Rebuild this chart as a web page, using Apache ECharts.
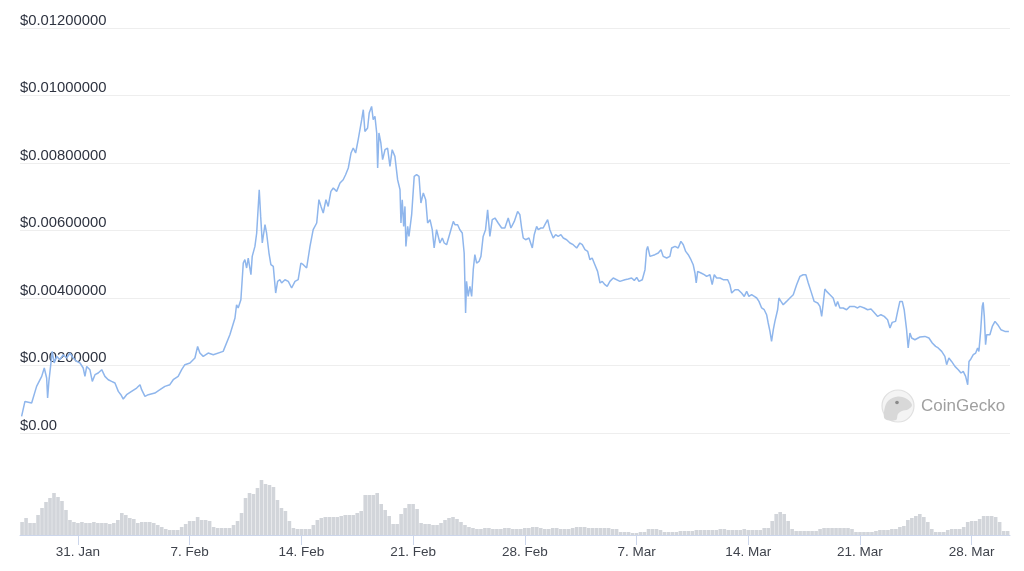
<!DOCTYPE html>
<html>
<head>
<meta charset="utf-8">
<script src="https://cdn.jsdelivr.net/npm/echarts@6/dist/echarts.min.js"></script>
<style>
html,body{margin:0;padding:0;background:#fff;}
#chart{width:1024px;height:571px;}
</style>
</head>
<body>
<div id="chart"></div>
<script>
// x values are days relative to 31 Jan (0 = 31 Jan)
const xTickDays = [0, 7, 14, 21, 28, 35, 42, 49, 56];
const xTickLabels = ['31. Jan', '7. Feb', '14. Feb', '21. Feb', '28. Feb', '7. Mar', '14. Mar', '21. Mar', '28. Mar'];
const yTickLabels = ['$0.00', '$0.00200000', '$0.00400000', '$0.00600000', '$0.00800000', '$0.01000000', '$0.01200000'];

// price: [day, USD]
const pricePoints = [
[-3.53,0.000492],[-3.32,0.000936],[-2.90,0.000889],[-2.59,0.001381],[-2.27,0.001677],[-2.11,0.001926],[-1.96,0.001630],[-1.90,0.001037],[-1.82,0.001529],[-1.61,0.002418],
[-1.49,0.002074],[-1.33,0.002270],[-1.13,0.002172],[-0.92,0.002320],[-0.71,0.002222],[-0.50,0.002370],[-0.29,0.002222],[-0.08,0.002121],[0.13,0.002074],[0.33,0.001926],
[0.44,0.001677],[0.55,0.001973],[0.75,0.001876],[0.90,0.001529],[1.07,0.001727],[1.27,0.001778],[1.49,0.001876],[1.69,0.001677],[1.90,0.001579],[2.11,0.001529],
[2.32,0.001481],[2.53,0.001233],[2.69,0.001135],[2.84,0.001007],[3.05,0.001135],[3.36,0.001233],[3.68,0.001333],[3.89,0.001431],[3.99,0.001283],[4.20,0.001084],
[4.41,0.001135],[4.82,0.001185],[5.14,0.001283],[5.45,0.001381],[5.76,0.001431],[5.97,0.001579],[6.28,0.001677],[6.50,0.001876],[6.70,0.002024],[6.81,0.001973],
[7.02,0.002074],[7.33,0.002222],[7.50,0.002566],[7.64,0.002370],[7.85,0.002270],[8.16,0.002370],[8.48,0.002320],[9.10,0.002418],[9.52,0.002913],[9.84,0.003407],
[9.94,0.003801],[10.04,0.003704],[10.21,0.003950],[10.36,0.005037],[10.46,0.005135],[10.57,0.004889],[10.67,0.005185],[10.84,0.004690],[10.92,0.005233],[11.09,0.005529],
[11.20,0.005926],[11.36,0.007209],[11.45,0.006418],[11.55,0.005630],[11.72,0.006172],[11.82,0.005926],[11.97,0.005333],[12.09,0.004987],[12.24,0.004936],[12.39,0.004148],
[12.51,0.004492],[12.66,0.004542],[12.76,0.004444],[12.97,0.004542],[13.18,0.004492],[13.39,0.004296],[13.60,0.004492],[13.80,0.004542],[13.97,0.005037],[14.12,0.004987],
[14.33,0.004889],[14.54,0.005529],[14.74,0.006024],[14.96,0.006222],[15.10,0.006913],[15.23,0.006714],[15.37,0.006519],[15.54,0.006913],[15.68,0.006714],[15.85,0.007159],
[16.00,0.007259],[16.21,0.007159],[16.42,0.007407],[16.62,0.007505],[16.77,0.007653],[16.94,0.007852],[17.11,0.008296],[17.25,0.008444],[17.40,0.008296],[17.56,0.008690],
[17.78,0.009283],[17.88,0.009579],[17.98,0.008936],[18.15,0.009037],[18.25,0.009481],[18.40,0.009677],[18.50,0.009283],[18.61,0.009381],[18.72,0.008889],[18.78,0.007852],
[18.86,0.008889],[18.98,0.008593],[19.09,0.008098],[19.24,0.008394],[19.40,0.008444],[19.55,0.007899],[19.69,0.008394],[19.86,0.008196],[20.03,0.007505],[20.18,0.007209],
[20.24,0.006222],[20.32,0.006913],[20.41,0.006121],[20.49,0.006714],[20.55,0.005529],[20.66,0.006121],[20.74,0.005825],[20.91,0.006468],[21.07,0.007603],[21.22,0.007653],
[21.37,0.007603],[21.49,0.006815],[21.64,0.007111],[21.79,0.006913],[21.91,0.006222],[22.06,0.006320],[22.20,0.006024],[22.32,0.005481],[22.47,0.006024],[22.58,0.006074],
[22.68,0.005630],[22.83,0.005778],[22.95,0.005630],[23.10,0.005579],[23.20,0.005630],[23.37,0.006024],[23.52,0.006270],[23.62,0.006172],[23.79,0.006172],[23.93,0.006024],
[24.08,0.005926],[24.20,0.005333],[24.29,0.003556],[24.35,0.004492],[24.45,0.004047],[24.56,0.004344],[24.67,0.004047],[24.77,0.004839],[24.87,0.005283],[24.98,0.005037],
[25.13,0.005084],[25.25,0.005233],[25.39,0.005825],[25.54,0.006024],[25.67,0.006616],[25.81,0.005825],[25.96,0.006320],[26.13,0.006370],[26.33,0.006222],[26.55,0.006074],
[26.75,0.006074],[26.96,0.006370],[27.13,0.006074],[27.34,0.006270],[27.55,0.006566],[27.69,0.006468],[27.80,0.006074],[27.90,0.005778],[28.05,0.005727],[28.26,0.005778],
[28.38,0.005778],[28.47,0.005481],[28.59,0.005876],[28.74,0.006121],[28.84,0.006024],[29.01,0.006074],[29.15,0.006074],[29.26,0.006172],[29.43,0.006320],[29.57,0.006024],
[29.68,0.005973],[29.78,0.005778],[29.93,0.005876],[30.09,0.005825],[30.26,0.005876],[30.41,0.005778],[30.62,0.005727],[30.83,0.005630],[31.03,0.005579],[31.25,0.005481],
[31.45,0.005630],[31.60,0.005579],[31.77,0.005431],[31.94,0.005381],[32.08,0.005135],[32.22,0.005185],[32.39,0.004987],[32.56,0.004788],[32.71,0.004444],[32.85,0.004492],
[33.02,0.004394],[33.16,0.004344],[33.33,0.004492],[33.54,0.004593],[33.65,0.004542],[33.96,0.004492],[34.27,0.004542],[34.48,0.004563],[34.69,0.004593],[34.86,0.004521],
[35.01,0.004610],[35.15,0.004492],[35.36,0.004542],[35.53,0.004839],[35.63,0.005431],[35.70,0.005529],[35.84,0.005233],[35.95,0.005283],[36.15,0.005283],[36.36,0.005333],
[36.53,0.005431],[36.67,0.005233],[36.89,0.005185],[37.09,0.005233],[37.20,0.005481],[37.41,0.005529],[37.61,0.005481],[37.78,0.005677],[37.93,0.005579],[38.08,0.005381],
[38.24,0.005283],[38.41,0.005135],[38.55,0.004987],[38.66,0.004741],[38.74,0.004444],[38.83,0.004788],[39.04,0.004741],[39.24,0.004690],[39.39,0.004640],[39.60,0.004690],
[39.74,0.004394],[39.87,0.004690],[40.02,0.004593],[40.23,0.004593],[40.43,0.004542],[40.71,0.004542],[40.85,0.004394],[40.96,0.004148],[41.17,0.004246],[41.37,0.004246],
[41.58,0.004148],[41.75,0.004047],[41.90,0.004196],[42.04,0.004047],[42.21,0.004098],[42.38,0.004047],[42.53,0.004000],[42.67,0.003899],[42.84,0.003704],[43.00,0.003653],
[43.15,0.003505],[43.25,0.003259],[43.36,0.003010],[43.46,0.002714],[43.57,0.003061],[43.67,0.003307],[43.84,0.003653],[43.92,0.004000],[44.05,0.003899],[44.19,0.003801],
[44.40,0.003899],[44.61,0.004000],[44.82,0.004098],[45.03,0.004394],[45.24,0.004640],[45.44,0.004690],[45.61,0.004690],[45.76,0.004444],[45.93,0.004196],[46.13,0.003899],
[46.35,0.003852],[46.49,0.003751],[46.60,0.003455],[46.70,0.003852],[46.80,0.004267],[46.91,0.004196],[47.12,0.004098],[47.32,0.004000],[47.48,0.003751],[47.60,0.003899],
[47.74,0.003704],[47.95,0.003704],[48.16,0.003653],[48.37,0.003751],[48.64,0.003751],[48.85,0.003704],[49.00,0.003751],[49.27,0.003704],[49.48,0.003653],[49.69,0.003674],
[49.89,0.003573],[50.11,0.003455],[50.31,0.003505],[50.52,0.003455],[50.73,0.003357],[50.88,0.003111],[51.02,0.003277],[51.23,0.003307],[51.36,0.003603],[51.50,0.003899],
[51.65,0.003899],[51.77,0.003653],[51.82,0.003455],[51.92,0.003061],[52.02,0.002519],[52.13,0.002963],[52.24,0.002815],[52.44,0.002764],[52.76,0.002844],[53.07,0.002862],
[53.32,0.002815],[53.53,0.002667],[53.74,0.002566],[53.90,0.002519],[54.12,0.002418],[54.32,0.002270],[54.43,0.002024],[54.57,0.002222],[54.74,0.002121],[54.95,0.001973],
[55.16,0.001876],[55.33,0.001778],[55.47,0.001825],[55.62,0.001677],[55.75,0.001431],[55.83,0.002121],[55.95,0.002193],[56.10,0.002320],[56.25,0.002370],[56.37,0.002519],
[56.45,0.002418],[56.56,0.003010],[56.66,0.003751],[56.72,0.003870],[56.79,0.003455],[56.87,0.002616],[56.94,0.002913],[57.14,0.002913],[57.29,0.003158],[57.46,0.003307],
[57.63,0.003209],[57.83,0.003061],[58.08,0.003010],[58.33,0.003010]
];

// volume: one value per 6-hour slot starting at day -3.5 (relative units)
const volumeStartDay = -3.5;
const volumeStepDay = 0.25;
const volume = [
13,17,12,12,20,27,33,37,42,38,
34,25,15,13,12,13,12,12,13,12,
12,12,11,12,15,22,20,17,16,12,
13,13,13,12,10,8,6,5,5,5,
8,11,14,14,18,15,15,14,8,7,
7,7,7,10,14,22,37,42,41,47,
55,51,50,48,35,27,24,14,7,6,
6,6,6,10,15,17,18,18,18,18,
19,20,20,20,22,24,40,40,40,42,
31,25,19,11,11,21,27,31,31,26,
12,11,11,10,10,12,15,17,18,16,
13,10,8,7,6,6,7,7,6,6,
6,7,7,6,6,6,7,7,8,8,
7,6,6,7,7,6,6,6,7,8,
8,8,7,7,7,7,7,7,6,6,
3,3,3,2,2,3,3,6,6,6,
5,3,3,3,3,4,4,4,4,5,
5,5,5,5,5,6,6,5,5,5,
5,6,5,5,5,5,7,7,14,21,
23,21,14,6,4,4,4,4,4,4,
6,7,7,7,7,7,7,7,6,3,
3,3,3,3,4,5,5,5,6,6,
8,9,15,17,19,21,18,13,6,3,
3,3,5,6,6,6,8,13,14,14,
16,19,19,19,18,13,4,4
];

const X_MIN = -3.63;
const X_MAX = 58.40;

const volumeData = volume.map((v, i) => [volumeStartDay + i * volumeStepDay, v]);

const chart = echarts.init(document.getElementById('chart'), null, {renderer: 'canvas'});
const FONT = 'Liberation Sans, Helvetica, Arial, sans-serif';

chart.setOption({
  animation: false,
  backgroundColor: '#ffffff',
  grid: [
    {left: 20, right: 14, top: 28, height: 405},
    {left: 20, right: 14, top: 435, height: 100}
  ],
  xAxis: [
    {type: 'value', gridIndex: 0, min: X_MIN, max: X_MAX, show: false},
    {
      type: 'value', gridIndex: 1, min: X_MIN, max: X_MAX,
      axisLine: {show: true, lineStyle: {color: '#ccd6eb', width: 1}},
      axisTick: {show: true, length: 10, lineStyle: {color: '#ccd6eb'}, customValues: xTickDays},
      axisLabel: {
        customValues: xTickDays,
        formatter: v => xTickLabels[Math.round(v / 7)],
        color: '#3f434c', fontSize: 13.5, fontFamily: FONT, margin: 10
      },
      splitLine: {show: false}
    }
  ],
  yAxis: [
    {
      type: 'value', gridIndex: 0, min: 0, max: 0.012, interval: 0.002,
      axisLine: {show: false}, axisTick: {show: false},
      splitLine: {show: true, lineStyle: {color: '#eeeeee', width: 1}},
      axisLabel: {
        inside: true, margin: 0, verticalAlign: 'bottom', lineHeight: 15,
        color: '#2e3340', fontSize: 14.8, fontFamily: FONT,
        formatter: v => yTickLabels[Math.round(v / 0.002)]
      }
    },
    {type: 'value', gridIndex: 1, min: 0, max: 100, show: false}
  ],
  graphic: [
    {type: 'circle', z: 0, shape: {cx: 898, cy: 406, r: 16}, style: {fill: '#f4f4f4', stroke: '#e0e0e0', lineWidth: 1.2}, silent: true},
    {type: 'polygon', z: 0, shape: {points: [[885,419],[884.5,409],[888.5,400.5],[898,396.5],[907,399],[912,405],[908,409.5],[902,411],[898,414],[896,420]], smooth: 0.35}, style: {fill: '#d8d8d8'}, silent: true},
    {type: 'circle', z: 0, shape: {cx: 897, cy: 402.5, r: 1.8}, style: {fill: '#8a8a8a'}, silent: true},
    {type: 'text', z: 0, x: 921, y: 406, style: {text: 'CoinGecko', fill: '#a0a0a0', font: '17px ' + FONT, verticalAlign: 'middle', align: 'left'}, silent: true}
  ],
  series: [
    {
      type: 'bar', xAxisIndex: 1, yAxisIndex: 1, data: volumeData,
      barWidth: 3.6, itemStyle: {color: '#d2d5da'}, silent: true
    },
    {
      type: 'line', xAxisIndex: 0, yAxisIndex: 0, data: pricePoints,
      symbol: 'none', showSymbol: false,
      lineStyle: {color: '#8fb6ec', width: 1.5}, silent: true
    }
  ]
});
</script>
</body>
</html>
